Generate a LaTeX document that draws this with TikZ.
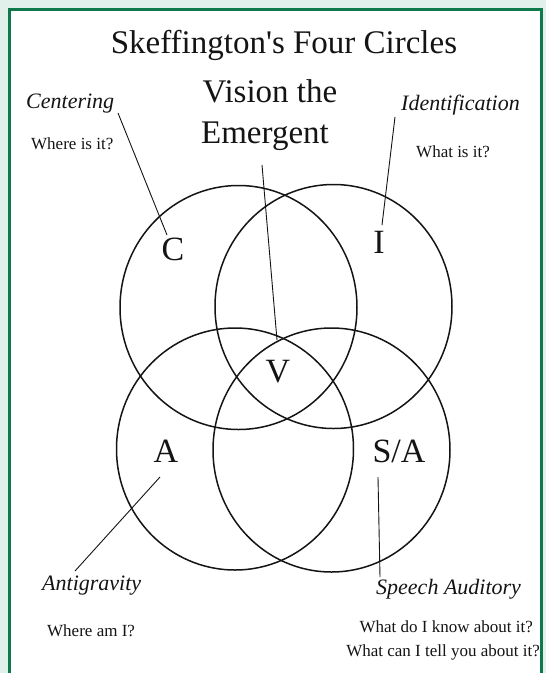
\documentclass[tikz,border=0pt]{standalone}
\usepackage{fontspec}
\setmainfont{Liberation Serif}
\definecolor{mint}{HTML}{E1F0EA}
\definecolor{framegreen}{HTML}{0E7A4C}
\definecolor{ink}{HTML}{141414}
\begin{document}
\begin{tikzpicture}[x=1pt,y=-1pt,
  circ/.style={draw=ink, line width=1.5pt},
  lead/.style={draw=ink, line width=0.9pt},
  txt/.style={text=ink, inner sep=0pt, anchor=base},
  huge/.style={txt, font=\fontsize{33}{38}\selectfont},
  letter/.style={txt, font=\fontsize{34}{38}\selectfont},
  ital/.style={txt, font=\fontsize{22}{26}\selectfont\itshape},
  small/.style={txt, font=\fontsize{17}{20}\selectfont}]
\useasboundingbox (0,0) rectangle (546,673);
\fill[mint] (0,0) rectangle (546,673);
\fill[white] (9.5,9.5) rectangle (541.5,673);
\draw[framegreen, line width=3pt] (9.5,680) -- (9.5,9.5) -- (541.5,9.5) -- (541.5,680);

% circles
\draw[circ] (238.5,307.5) ellipse [x radius=118.5pt, y radius=122pt];
\draw[circ] (333.5,306.5) ellipse [x radius=118.5pt, y radius=122pt];
\draw[circ] (235,449) ellipse [x radius=118.5pt, y radius=121pt];
\draw[circ] (331.5,450) ellipse [x radius=118.5pt, y radius=122pt];

% titles
\node[huge] (title) at (284,53) {Skeffington\textquotesingle s Four Circles};
\node[huge] (vis1) at (270,102) {Vision the};
\node[huge] (vis2) at (265,143) {Emergent};

% letters
\node[letter] (C) at (173,260) {C};
\node[letter] (I) at (379,253) {I};
\node[letter] (V) at (278,382) {V};
\node[letter] (A) at (166,462) {A};
\node[letter] (SA) at (399,462) {S/A};

% side labels
\node[ital, anchor=base west] (cent) at (26,108) {Centering};
\node[small, anchor=base west] (cq) at (31,149) {Where is it?};
\node[ital, anchor=base west] (ident) at (401,110) {Identification};
\node[small, anchor=base west] (iq) at (416,157) {What is it?};
\node[ital, anchor=base west] (anti) at (42,590) {Antigravity};
\node[small, anchor=base west] (aq) at (47,636) {Where am I?};
\node[ital, anchor=base west] (speech) at (376,594) {Speech Auditory};
\node[small, anchor=base east] (sq1) at (533,632) {What do I know about it?};
\node[small, anchor=base east] (sq2) at (540,656) {What can I tell you about it?};

% leader lines
\coordinate (c1) at (118,113);
\coordinate (c2) at (167,235);
\coordinate (v1) at (262,165);
\coordinate (v2) at (277,340);
\coordinate (i1) at (395,117);
\coordinate (i2) at (382,225);
\coordinate (a1) at (160,477);
\coordinate (a2) at (75,571);
\coordinate (s1) at (378,477);
\coordinate (s2) at (380,577);
\draw[lead] (c1) -- (c2);
\draw[lead] (v1) -- (v2);
\draw[lead] (i1) -- (i2);
\draw[lead] (a1) -- (a2);
\draw[lead] (s1) -- (s2);
\end{tikzpicture}
\end{document}
